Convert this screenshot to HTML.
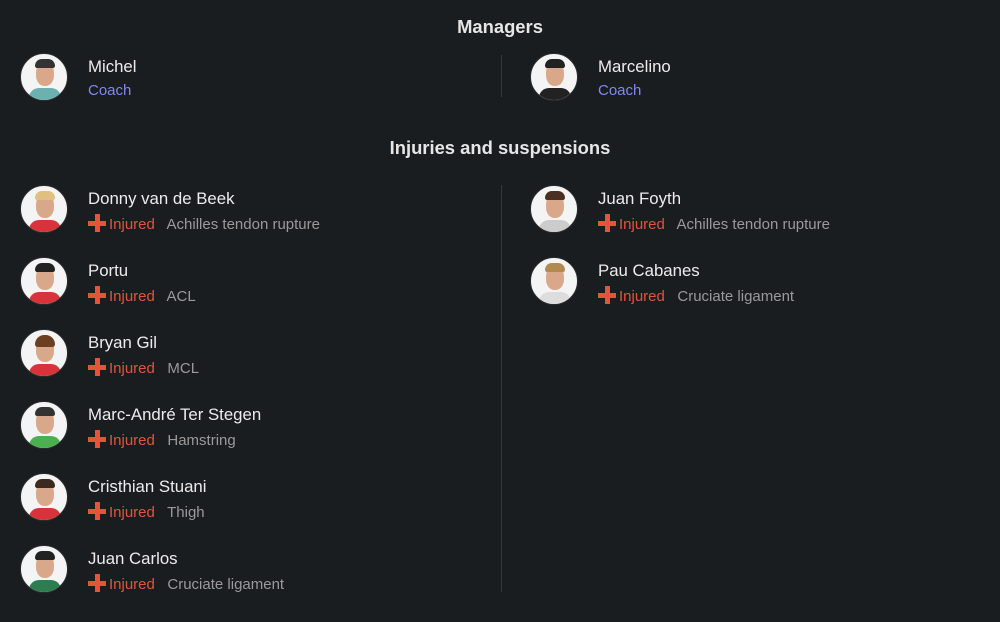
<!DOCTYPE html><html><head><style>
body{margin:0;width:1000px;height:622px;background:#1a1d20;font-family:"Liberation Sans",sans-serif;color:#e8e8e8;position:relative;overflow:hidden}
.h{position:absolute;left:0;width:1000px;text-align:center;font-weight:bold;font-size:18.4px;color:#e6e6e6}
.p{position:absolute;height:48px}
.av{position:absolute;left:0;top:0;width:48px;height:48px;border-radius:50%;background:#f4f4f4;overflow:hidden;border:1px solid #2a2d30;box-sizing:border-box}
.face{position:absolute;left:15px;top:8px;width:18px;height:24px;border-radius:45%;background:#d9a88a}
.hair{position:absolute;left:14px;top:5px;width:20px;height:9px;border-radius:10px 10px 3px 3px;background:#4a3a30}
.sh{position:absolute;left:8px;top:34px;width:32px;height:16px;border-radius:10px 10px 0 0;background:#d8323a}
.n{position:absolute;left:68px;top:4px;font-size:16.8px;white-space:nowrap;color:#ececec}
.s{position:absolute;left:68px;top:29px;font-size:15px;white-space:nowrap;color:#9a9a9a}
.c{color:#8088f0}
.i{color:#e5533d}
.x{display:inline-block;position:relative;width:18px;height:18px;vertical-align:-3px;margin-right:3px}
.x:before{content:"";position:absolute;left:6.5px;top:0;width:5px;height:18px;background:#e5533d}
.x:after{content:"";position:absolute;left:0;top:6.5px;width:18px;height:5px;background:#e5533d}
.v{position:absolute;left:501px;width:1px;background:#34383c}
</style></head><body>
<div class="h" style="top:16px">Managers</div>
<div class="v" style="top:55px;height:42px"></div>
<div class="p" style="left:20px;top:53px"><div class="av"><div class="sh" style="background:#6cb0b0"></div><div class="face"></div><div class="hair" style="background:#333"></div></div><div class="n">Michel</div><div class="s c">Coach</div></div>
<div class="p" style="left:530px;top:53px"><div class="av"><div class="sh" style="background:#222"></div><div class="face"></div><div class="hair" style="background:#222"></div></div><div class="n">Marcelino</div><div class="s c">Coach</div></div>
<div class="h" style="top:137px">Injuries and suspensions</div>
<div class="v" style="top:185px;height:407px"></div>

<div class="p" style="left:20px;top:185px"><div class="av"><div class="sh"></div><div class="face"></div><div class="hair" style="background:#e0c080"></div></div><div class="n">Donny van de Beek</div><div class="s"><span class="x"></span><span class="i">Injured</span>&nbsp;&nbsp; Achilles tendon rupture</div></div>
<div class="p" style="left:20px;top:257px"><div class="av"><div class="sh"></div><div class="face"></div><div class="hair" style="background:#222"></div></div><div class="n">Portu</div><div class="s"><span class="x"></span><span class="i">Injured</span>&nbsp;&nbsp; ACL</div></div>
<div class="p" style="left:20px;top:329px"><div class="av"><div class="sh"></div><div class="face"></div><div class="hair" style="background:#6a4020;height:12px"></div></div><div class="n">Bryan Gil</div><div class="s"><span class="x"></span><span class="i">Injured</span>&nbsp;&nbsp; MCL</div></div>
<div class="p" style="left:20px;top:401px"><div class="av"><div class="sh" style="background:#4caf50"></div><div class="face"></div><div class="hair" style="background:#333"></div></div><div class="n">Marc-André Ter Stegen</div><div class="s"><span class="x"></span><span class="i">Injured</span>&nbsp;&nbsp; Hamstring</div></div>
<div class="p" style="left:20px;top:473px"><div class="av"><div class="sh"></div><div class="face"></div><div class="hair" style="background:#3a2a20"></div></div><div class="n">Cristhian Stuani</div><div class="s"><span class="x"></span><span class="i">Injured</span>&nbsp;&nbsp; Thigh</div></div>
<div class="p" style="left:20px;top:545px"><div class="av"><div class="sh" style="background:#2e7d50"></div><div class="face"></div><div class="hair" style="background:#222"></div></div><div class="n">Juan Carlos</div><div class="s"><span class="x"></span><span class="i">Injured</span>&nbsp;&nbsp; Cruciate ligament</div></div>

<div class="p" style="left:530px;top:185px"><div class="av"><div class="sh" style="background:#ccc"></div><div class="face"></div><div class="hair" style="background:#4a3020"></div></div><div class="n">Juan Foyth</div><div class="s"><span class="x"></span><span class="i">Injured</span>&nbsp;&nbsp; Achilles tendon rupture</div></div>
<div class="p" style="left:530px;top:257px"><div class="av"><div class="sh" style="background:#ddd"></div><div class="face"></div><div class="hair" style="background:#b08a50"></div></div><div class="n">Pau Cabanes</div><div class="s"><span class="x"></span><span class="i">Injured</span>&nbsp;&nbsp; Cruciate ligament</div></div>
</body></html>
